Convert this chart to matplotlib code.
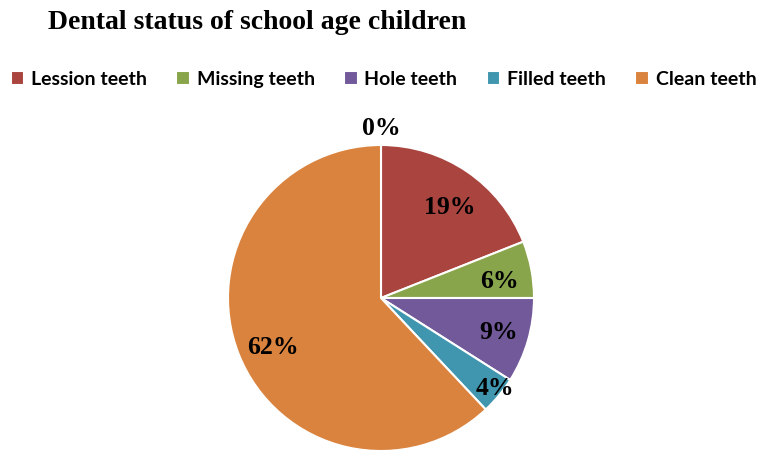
import numpy as np
import matplotlib.pyplot as plt

categories = ["Lession teeth", "Missing teeth", "Hole teeth", "Filled teeth", "Clean teeth"]
values = [19, 6, 9, 4, 62]
zero_label = "0%"
colors = ["#A9443F", "#89A54B", "#71599A", "#4096AE", "#DA833E"]
label_dist = [0.74, 0.78, 0.80, 0.95, 0.78]
label_shift = [-3, -3, 0, 1, 3]  # degrees, Excel "best fit" placement

fig = plt.figure(figsize=(7.61, 4.57), dpi=100)
W, H = 761, 457
cx, cy, R = 381, 298, 153
ax = fig.add_axes([(cx - R) / W, (H - cy - R) / H, 2 * R / W, 2 * R / H])

wedges, texts, autotexts = ax.pie(values, colors=colors, startangle=90, counterclock=False,
                                  radius=1, autopct="%1.0f%%",
                                  wedgeprops=dict(edgecolor="white", linewidth=1.5),
                                  textprops=dict(family="Liberation Serif", fontweight="bold",
                                                 fontsize=18.5, color="black"))
for w, t, d, s in zip(wedges, autotexts, label_dist, label_shift):
    ang = np.deg2rad((w.theta1 + w.theta2) / 2 + s)
    t.set_position((d * np.cos(ang), d * np.sin(ang)))
ax.text(0, 1.11, zero_label, ha="center", va="center", family="Liberation Serif",
        fontweight="bold", fontsize=18.5)
ax.set_xlim(-1, 1)
ax.set_ylim(-1, 1)
ax.axis("off")

fig.text(48 / W, 1 - 29 / H, "Dental status of school age children", ha="left", va="baseline",
         family="Liberation Serif", fontweight="bold", fontsize=20)

fig.legend(wedges, categories, loc="upper left", bbox_to_anchor=(3 / W, 1 - 63 / H), ncol=5,
           frameon=False, handlelength=0.7, handleheight=0.7, handletextpad=0.35,
           columnspacing=1.5, borderaxespad=0,
           prop=dict(family="Lato", weight="bold", size=14))

fig.savefig("out.png", dpi=100)
